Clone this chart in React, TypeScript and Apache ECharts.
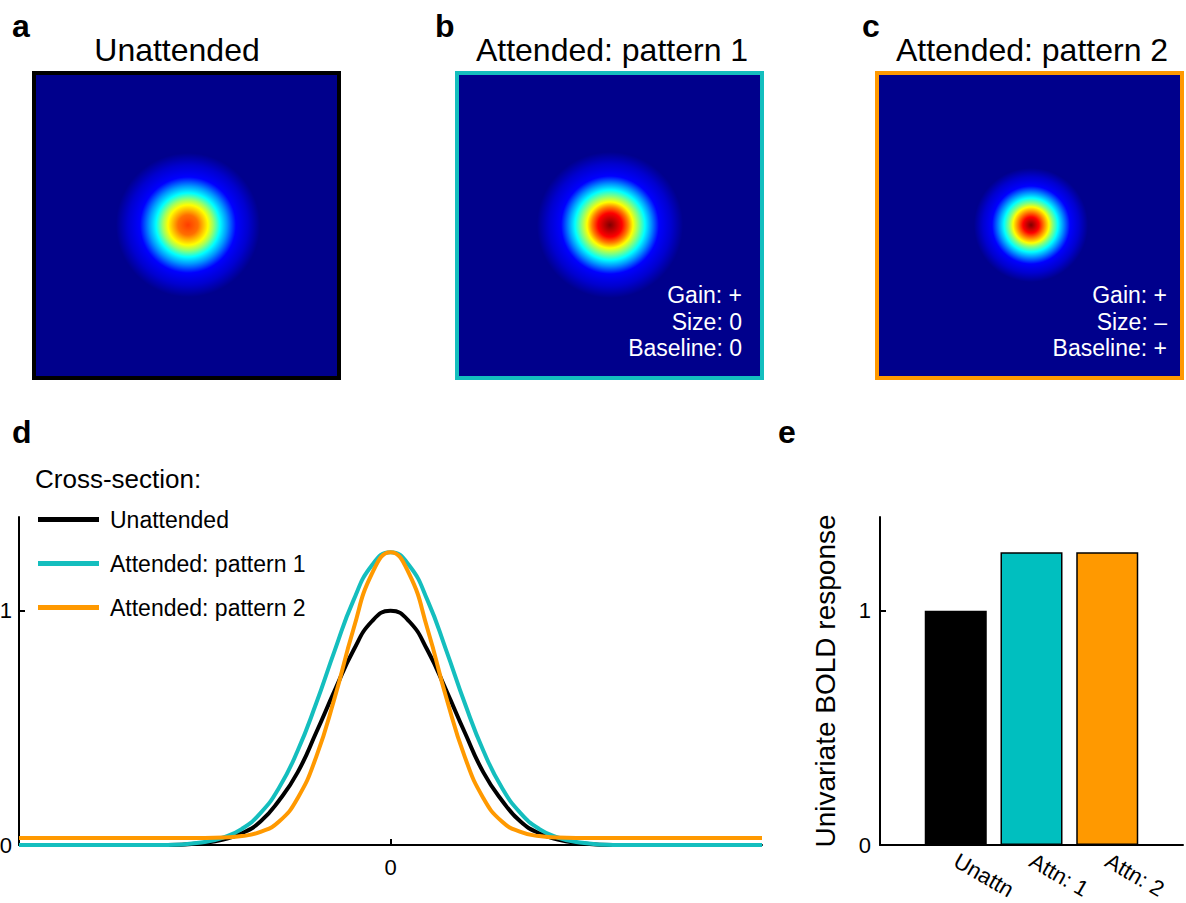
import React, { useEffect, useRef } from "react";
import * as echarts from "echarts";

// ---- Cross-section data (panel d) ----
const xValues = [-5, -3, -2.5, -2.25, -2, -1.75, -1.5, -1.25, -1, -0.75, -0.5, -0.25, 0, 0.25, 0.5, 0.75, 1, 1.25, 1.5, 1.75, 2, 2.25, 2.5, 3, 5];
const unattended = [0, 0, 0.01, 0.023, 0.05, 0.1, 0.19, 0.31, 0.48, 0.66, 0.83, 0.955, 1, 0.955, 0.83, 0.66, 0.48, 0.31, 0.19, 0.1, 0.05, 0.023, 0.01, 0, 0];
const attended1 = [0, 0, 0.013, 0.032, 0.069, 0.136, 0.244, 0.402, 0.605, 0.831, 1.043, 1.194, 1.25, 1.194, 1.043, 0.831, 0.605, 0.402, 0.244, 0.136, 0.069, 0.032, 0.013, 0, 0];
const attended2 = [0.03, 0.03, 0.03, 0.032, 0.038, 0.056, 0.1, 0.2, 0.376, 0.63, 0.92, 1.158, 1.25, 1.158, 0.92, 0.63, 0.376, 0.2, 0.1, 0.056, 0.038, 0.032, 0.03, 0.03, 0.03];
const lineNames = ["Unattended", "Attended: pattern 1", "Attended: pattern 2"];
const lineYTicks = [0, 1];
const lineXTicks = [0];

// ---- Bar data (panel e) ----
const barCategories = ["Unattn", "Attn: 1", "Attn: 2"];
const barValues = [1, 1.25, 1.25];
const barYTicks = [0, 1];

// ---- Colours ----
const BLACK = "#000000";
const CYAN = "#14BEBE";
const CYAN_BAR = "#00BFBF";
const ORANGE = "#FF9900";
const BG = "#00008C";

// ---- Map panels (a-c): titles, annotations, colour rings (radius px -> colour) ----
const panelTitles = ["Unattended", "Attended: pattern 1", "Attended: pattern 2"];
const panelLetters = ["a", "b", "c"];
const panelNotes = [[], ["Gain: +", "Size: 0", "Baseline: 0"], ["Gain: +", "Size: \u2013", "Baseline: +"]];
const ringsA = [[0, "#FF3C00"], [10, "#FF6E00"], [20, "#FFFF00"], [25, "#A0FF60"], [32, "#00FFFF"], [39, "#0096FF"], [48, "#0000FF"], [60, "#0000D0"], [72, BG]];
const ringsB = [[0, "#800000"], [12, "#FF0000"], [18, "#FF8000"], [23, "#FFFF00"], [29, "#80FF80"], [35, "#00FFFF"], [41, "#0096FF"], [49, "#0000FF"], [61, "#0000D0"], [73, BG]];
const ringsC = [[0, "#800000"], [8, "#FF0000"], [13, "#FF8000"], [18, "#FFFF00"], [22, "#80FF80"], [27, "#00FFFF"], [32, "#0096FF"], [39, "#0000FF"], [48, "#0000D0"], [57, BG]];

const FONT = "'Liberation Sans', Arial, Helvetica, sans-serif";

export default function App() {
  const ref = useRef<HTMLDivElement>(null);
  useEffect(() => {
    if (!ref.current) return;
    const chart = echarts.init(ref.current, null, { renderer: "svg" });

    const panels = [
      { x: 34, cx: 188, titleX: 177, letterX: 12, border: BLACK, rings: ringsA, noteX: 742 },
      { x: 457, cx: 610, titleX: 612, letterX: 435, border: CYAN, rings: ringsB, noteX: 742 },
      { x: 877, cx: 1031, titleX: 1032, letterX: 862, border: ORANGE, rings: ringsC, noteX: 1167 },
    ];
    const graphics: any[] = [];
    panels.forEach((p, i) => {
      const R = (p.rings[p.rings.length - 1][0] as number);
      const stops = p.rings.map(([r, c]) => ({ offset: (r as number) / R, color: c as string }));
      graphics.push({
        type: "rect",
        shape: { x: p.x, y: 73, width: 305, height: 305 },
        style: {
          fill: new echarts.graphic.RadialGradient(p.cx, 225, R, stops, true),
          stroke: p.border,
          lineWidth: 4,
        },
      });
      graphics.push({
        type: "text", x: p.titleX, y: 50,
        style: { text: panelTitles[i], fill: "#000", fontSize: 32, fontFamily: FONT, align: "center", verticalAlign: "middle" },
      });
      graphics.push({
        type: "text", x: p.letterX, y: 26,
        style: { text: panelLetters[i], fill: "#000", fontSize: 32, fontWeight: "bold", fontFamily: FONT, align: "left", verticalAlign: "middle" },
      });
      panelNotes[i].forEach((t, k) => {
        graphics.push({
          type: "text", x: p.noteX, y: 295 + k * 26.5,
          style: { text: t, fill: "#fff", fontSize: 23, fontFamily: FONT, align: "right", verticalAlign: "middle" },
        });
      });
    });
    graphics.push({
      type: "text", x: 12, y: 432,
      style: { text: "d", fill: "#000", fontSize: 32, fontWeight: "bold", fontFamily: FONT, align: "left", verticalAlign: "middle" },
    });
    graphics.push({
      type: "text", x: 778, y: 432,
      style: { text: "e", fill: "#000", fontSize: 32, fontWeight: "bold", fontFamily: FONT, align: "left", verticalAlign: "middle" },
    });
    graphics.push({
      type: "text", x: 35, y: 479,
      style: { text: "Cross-section:", fill: "#000", fontSize: 26, fontFamily: FONT, align: "left", verticalAlign: "middle" },
    });
    graphics.push({
      type: "text", x: 825, y: 681, rotation: Math.PI / 2,
      style: { text: "Univariate BOLD response", fill: "#000", fontSize: 28, fontFamily: FONT, align: "center", verticalAlign: "middle" },
    });

    const axisLine = { lineStyle: { color: "#000", width: 2 } };
    const tick = { inside: true, length: 6, lineStyle: { color: "#000", width: 2 } };
    const lbl = { color: "#000", fontSize: 22, fontFamily: FONT };

    const lineColors = [BLACK, CYAN, ORANGE];
    const lineData = [unattended, attended1, attended2];

    chart.setOption({
      animation: false,
      backgroundColor: "#fff",
      textStyle: { fontFamily: FONT },
      graphic: graphics,
      legend: {
        data: lineNames,
        orient: "vertical",
        left: 33,
        top: 503,
        icon: "rect",
        itemWidth: 61,
        itemHeight: 5,
        itemGap: 21,
        textStyle: { color: "#000", fontSize: 23, fontFamily: FONT, padding: [0, 0, 0, 6] },
        selectedMode: false,
      },
      grid: [
        { left: 19, top: 517, width: 743, height: 328, outerBoundsMode: "none", containLabel: false },
        { left: 880, top: 517, width: 303, height: 328, outerBoundsMode: "none", containLabel: false },
      ],
      xAxis: [
        {
          gridIndex: 0, type: "value", min: -5, max: 5,
          axisLine: { ...axisLine, onZero: true }, splitLine: { show: false },
          axisTick: { ...tick, customValues: lineXTicks },
          axisLabel: { ...lbl, margin: 11, customValues: lineXTicks },
        },
        {
          gridIndex: 1, type: "value", min: 0, max: 4,
          axisLine, splitLine: { show: false },
          axisTick: { show: false },
          axisLabel: {
            ...lbl, fontSize: 22, margin: 14, rotate: -30,
            customValues: [1, 2, 3],
            formatter: (v: number) => barCategories[v - 1] ?? "",
          },
        },
      ],
      yAxis: [
        {
          gridIndex: 0, type: "value", min: 0, max: 1.4,
          axisLine: { show: true, onZero: false, ...axisLine }, splitLine: { show: false },
          axisTick: { ...tick, customValues: lineYTicks },
          axisLabel: { ...lbl, margin: 7, customValues: lineYTicks },
        },
        {
          gridIndex: 1, type: "value", min: 0, max: 1.4,
          axisLine: { show: true, onZero: false, ...axisLine }, splitLine: { show: false },
          axisTick: { ...tick, customValues: barYTicks },
          axisLabel: { ...lbl, margin: 9, customValues: barYTicks },
        },
      ],
      series: [
        ...lineData.map((ys, i) => ({
          name: lineNames[i],
          type: "line",
          xAxisIndex: 0,
          yAxisIndex: 0,
          data: xValues.map((x, k) => [x, ys[k]]),
          smooth: true,
          showSymbol: false,
          symbol: "none",
          color: lineColors[i],
          lineStyle: { color: lineColors[i], width: 4 },
          z: 3 + i,
        })),
        {
          name: "bars",
          type: "bar",
          xAxisIndex: 1,
          yAxisIndex: 1,
          barWidth: 62,
          data: barValues.map((v, i) => ({
            value: [i + 1, v],
            itemStyle: { color: [BLACK, CYAN_BAR, ORANGE][i], borderColor: "#000", borderWidth: 1.5 },
          })),
        },
      ],
    });
    return () => chart.dispose();
  }, []);
  return <div ref={ref} style={{ position: "fixed", left: 0, top: 0, width: 1186, height: 903, background: "#fff" }} />;
}
